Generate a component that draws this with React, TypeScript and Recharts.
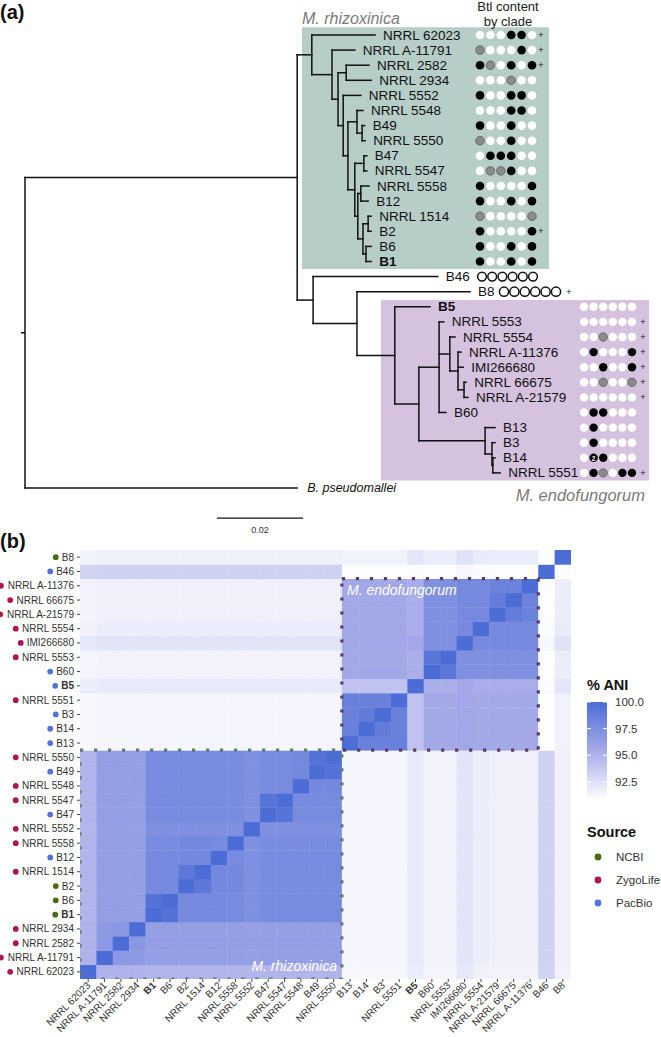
import React from 'react';
import {
    ComposedChart,
    ScatterChart,
    Scatter,
    XAxis,
    YAxis,
    ReferenceLine,
    ReferenceArea,
} from 'recharts';

const FONT = '"Liberation Sans", Arial, Helvetica, sans-serif';

// ---------------- (a) phylogeny ----------------

// leaves from top to bottom
const leafOrder = [
    'NRRL 62023', 'NRRL A-11791', 'NRRL 2582', 'NRRL 2934', 'NRRL 5552', 'NRRL 5548',
    'B49', 'NRRL 5550', 'B47', 'NRRL 5547', 'NRRL 5558', 'B12', 'NRRL 1514', 'B2', 'B6', 'B1',
    'B46', 'B8',
    'B5', 'NRRL 5553', 'NRRL 5554', 'NRRL A-11376', 'IMI266680', 'NRRL 66675', 'NRRL A-21579',
    'B60', 'B13', 'B3', 'B14', 'NRRL 5551',
    'B. pseudomallei',
];

// [node, parent, distance from root]
const treeEdges: [string, string, number][] = [
    ['ingroup', 'root', 0.0633],
    ['B. pseudomallei', 'root', 0.0633],
    ['R0', 'ingroup', 0.0667],
    ['NRRL 62023', 'R0', 0.0814],
    ['R1', 'R0', 0.0714],
    ['NRRL A-11791', 'R1', 0.0767],
    ['R2', 'R1', 0.0728],
    ['P', 'R2', 0.0747],
    ['NRRL 2582', 'P', 0.08],
    ['NRRL 2934', 'P', 0.0805],
    ['R3', 'R2', 0.074],
    ['NRRL 5552', 'R3', 0.0781],
    ['R4', 'R3', 0.0751],
    ['G1', 'R4', 0.0772],
    ['NRRL 5548', 'G1', 0.0786],
    ['G2', 'G1', 0.0784],
    ['B49', 'G2', 0.079],
    ['NRRL 5550', 'G2', 0.0791],
    ['R5', 'R4', 0.0767],
    ['G3', 'R5', 0.0788],
    ['B47', 'G3', 0.0795],
    ['NRRL 5547', 'G3', 0.0795],
    ['R6', 'R5', 0.0774],
    ['G4', 'R6', 0.0781],
    ['NRRL 5558', 'G4', 0.08],
    ['B12', 'G4', 0.0798],
    ['R7', 'R6', 0.0786],
    ['G5', 'R7', 0.0798],
    ['NRRL 1514', 'G5', 0.0805],
    ['B2', 'G5', 0.0805],
    ['G6', 'R7', 0.0793],
    ['B6', 'G6', 0.0805],
    ['B1', 'G6', 0.0805],
    ['N1', 'ingroup', 0.067],
    ['B46', 'N1', 0.096],
    ['N2', 'N1', 0.0772],
    ['B8', 'N2', 0.1035],
    ['E0', 'N2', 0.086],
    ['B5', 'E0', 0.0942],
    ['E1', 'E0', 0.0916],
    ['EA', 'E1', 0.0963],
    ['NRRL 5553', 'EA', 0.0974],
    ['EB', 'EA', 0.0988],
    ['NRRL 5554', 'EB', 0.1],
    ['EC', 'EB', 0.1007],
    ['NRRL A-11376', 'EC', 0.1014],
    ['IMI266680', 'EC', 0.1019],
    ['ED', 'EC', 0.1021],
    ['NRRL 66675', 'ED', 0.1026],
    ['NRRL A-21579', 'ED', 0.103],
    ['B60', 'EA', 0.0979],
    ['EB2', 'E1', 0.107],
    ['B13', 'EB2', 0.1093],
    ['EB3', 'EB2', 0.1086],
    ['B3', 'EB3', 0.1093],
    ['EB4', 'EB3', 0.1088],
    ['B14', 'EB4', 0.1093],
    ['NRRL 5551', 'EB4', 0.1105],
];

// Btl content per leaf (same order as leafOrder): w absent, g partial, k present, o none, 2 two copies
const btlPattern = [
    'wwwkkw', 'gwwwkw', 'kgwkwk', 'wwwgww', 'kwwkkw', 'wwwkkw', 'kwwkww', 'gwwkww',
    'wkkkww', 'wggkww', 'kwwwwk', 'kwwkwk', 'gwwwwg', 'kwwwwk', 'kwwkwk', 'kwwkwk',
    'oooooo', 'oooooo',
    'wwwwww', 'wwwwww', 'wwgwww', 'wkwwwk', 'wwkwwk', 'wwgwwg', 'wwwwww',
    'wkkwww', 'wkwwww', 'wkwwww', 'w2kwww', 'wkgwkk',
    '',
];
const btlPlus = [
    1, 1, 1, 0, 0, 0, 0, 0, 0, 0, 0, 0, 0, 1, 0, 0,
    0, 1,
    0, 1, 1, 1, 1, 1, 1, 0, 0, 0, 0, 1,
    0,
];

// ---------------- (b) ANI heatmap ----------------

const aniStrains = [
    'NRRL 62023', 'NRRL A-11791', 'NRRL 2582', 'NRRL 2934', 'B1', 'B6', 'B2', 'NRRL 1514',
    'B12', 'NRRL 5558', 'NRRL 5552', 'B47', 'NRRL 5547', 'NRRL 5548', 'B49', 'NRRL 5550',
    'B13', 'B14', 'B3', 'NRRL 5551', 'B5', 'B60', 'NRRL 5553', 'IMI266680', 'NRRL 5554',
    'NRRL A-21579', 'NRRL 66675', 'NRRL A-11376', 'B46', 'B8',
];

const aniSource = [
    'ZygoLife', 'ZygoLife', 'ZygoLife', 'ZygoLife', 'NCBI', 'NCBI', 'NCBI', 'ZygoLife',
    'PacBio', 'ZygoLife', 'ZygoLife', 'PacBio', 'ZygoLife', 'ZygoLife', 'PacBio', 'ZygoLife',
    'PacBio', 'PacBio', 'PacBio', 'ZygoLife', 'PacBio', 'PacBio', 'ZygoLife', 'ZygoLife', 'ZygoLife',
    'ZygoLife', 'ZygoLife', 'ZygoLife', 'PacBio', 'NCBI',
];

const sourceNames = ['NCBI', 'ZygoLife', 'PacBio'];
const sourceColors = ['#4b6b12', '#ad1650', '#5472dc'];

const aniTicks = [92.5, 95.0, 97.5, 100.0];

// clade blocks on the heatmap: first strain index, number of strains
const aniClades = [
    { name: 'M. rhizoxinica', first: 0, count: 16, color: '#5e7d6d' },
    { name: 'M. endofungorum', first: 16, count: 12, color: '#5b3a69' },
];

// % ANI, lower triangle (row i holds columns 0..i)
const aniLower: number[][] = [
    [100],
    [95.0, 100],
    [95.0, 96.8, 100],
    [95.0, 96.7, 96.9, 100],
    [94.9, 96.4, 96.4, 96.3, 100],
    [94.9, 96.4, 96.4, 96.3, 99.6, 100],
    [94.9, 96.4, 96.4, 96.3, 97.9, 97.9, 100],
    [94.9, 96.4, 96.4, 96.3, 97.9, 97.9, 99.2, 100],
    [94.9, 96.4, 96.4, 96.3, 97.9, 97.9, 98.0, 98.0, 100],
    [94.9, 96.4, 96.4, 96.3, 97.8, 97.8, 98.0, 98.0, 97.8, 100],
    [94.8, 96.3, 96.3, 96.2, 97.4, 97.4, 97.4, 97.4, 97.4, 97.4, 100],
    [94.9, 96.4, 96.4, 96.3, 97.8, 97.8, 97.8, 97.8, 97.8, 97.7, 97.4, 100],
    [94.9, 96.4, 96.4, 96.3, 97.8, 97.8, 97.8, 97.8, 97.8, 97.7, 97.4, 99.5, 100],
    [94.9, 96.4, 96.4, 96.3, 97.8, 97.8, 97.8, 97.8, 97.8, 97.7, 97.4, 97.8, 97.8, 100],
    [94.9, 96.4, 96.4, 96.3, 97.8, 97.8, 97.8, 97.8, 97.8, 97.7, 97.4, 97.8, 97.8, 98.0, 100],
    [94.9, 96.4, 96.4, 96.3, 97.8, 97.8, 97.8, 97.8, 97.8, 97.7, 97.4, 97.8, 97.8, 98.0, 99.6, 100],
    [91.2, 91.3, 91.3, 91.3, 91.3, 91.3, 91.3, 91.3, 91.3, 91.3, 91.3, 91.3, 91.3, 91.3, 91.3, 91.3,
        100],
    [91.2, 91.3, 91.3, 91.3, 91.3, 91.3, 91.3, 91.3, 91.3, 91.3, 91.3, 91.3, 91.3, 91.3, 91.3, 91.3,
        98.5, 100],
    [91.2, 91.3, 91.3, 91.3, 91.3, 91.3, 91.3, 91.3, 91.3, 91.3, 91.3, 91.3, 91.3, 91.3, 91.3, 91.3,
        98.5, 98.9, 100],
    [91.2, 91.3, 91.3, 91.3, 91.3, 91.3, 91.3, 91.3, 91.3, 91.3, 91.3, 91.3, 91.3, 91.3, 91.3, 91.3,
        98.6, 98.5, 98.5, 100],
    [91.8, 92.0, 92.0, 92.0, 92.0, 92.0, 92.0, 92.0, 92.0, 92.0, 92.0, 92.0, 92.0, 92.0, 92.0, 92.0,
        94.1, 94.1, 94.1, 94.1, 100],
    [91.4, 91.5, 91.5, 91.5, 91.5, 91.5, 91.5, 91.5, 91.5, 91.5, 91.5, 91.5, 91.5, 91.5, 91.5, 91.5,
        95.6, 95.6, 95.6, 95.6, 95.2, 100],
    [91.4, 91.5, 91.5, 91.5, 91.5, 91.5, 91.5, 91.5, 91.5, 91.5, 91.5, 91.5, 91.5, 91.5, 91.5, 91.5,
        95.6, 95.6, 95.6, 95.6, 95.2, 99.3, 100],
    [92.1, 92.3, 92.3, 92.3, 92.3, 92.3, 92.3, 92.3, 92.3, 92.3, 92.3, 92.3, 92.3, 92.3, 92.3, 92.3,
        95.7, 95.7, 95.7, 95.7, 95.7, 97.4, 97.4, 100],
    [91.6, 91.8, 91.8, 91.8, 91.8, 91.8, 91.8, 91.8, 91.8, 91.8, 91.8, 91.8, 91.8, 91.8, 91.8, 91.8,
        95.6, 95.6, 95.6, 95.6, 95.3, 97.4, 97.4, 97.9, 100],
    [91.5, 91.6, 91.6, 91.6, 91.6, 91.6, 91.6, 91.6, 91.6, 91.6, 91.6, 91.6, 91.6, 91.6, 91.6, 91.6,
        95.6, 95.6, 95.6, 95.6, 95.3, 97.4, 97.4, 97.9, 97.9, 100],
    [91.5, 91.6, 91.6, 91.6, 91.6, 91.6, 91.6, 91.6, 91.6, 91.6, 91.6, 91.6, 91.6, 91.6, 91.6, 91.6,
        95.6, 95.6, 95.6, 95.6, 95.3, 97.4, 97.4, 97.9, 97.9, 98.8, 100],
    [91.5, 91.6, 91.6, 91.6, 91.6, 91.6, 91.6, 91.6, 91.6, 91.6, 91.6, 91.6, 91.6, 91.6, 91.6, 91.6,
        95.6, 95.6, 95.6, 95.6, 95.3, 97.4, 97.4, 97.9, 97.9, 98.4, 98.4, 100],
    [93.2, 93.3, 93.3, 93.3, 93.3, 93.3, 93.3, 93.3, 93.3, 93.3, 93.3, 93.3, 93.3, 93.3, 93.3, 93.3,
        90.9, 90.9, 90.9, 90.9, 91.0, 90.9, 90.9, 91.2, 91.0, 90.9, 90.9, 90.9, 100],
    [91.5, 91.6, 91.6, 91.6, 91.6, 91.6, 91.6, 91.6, 91.6, 91.6, 91.6, 91.6, 91.6, 91.6, 91.6, 91.6,
        91.5, 91.5, 91.5, 91.5, 92.2, 91.8, 91.8, 92.4, 91.9, 91.8, 91.8, 91.8, 90.9, 100],
];

// ---------------- layout ----------------

const W = 661;
const TREE_H = 535;
const PX_PER_UNIT = 4300; // 0.02 substitutions = 86 px
const ROOT_PX = 25;
const ROW0_PX = 35;
const ROW_PX = 15.1;
const toDepth = (px: number) => (px - ROOT_PX) / PX_PER_UNIT;

const TEAL = '#b6cdc8';
const LILAC = '#d5c2de';

// where each clade's Btl circles start (px), spacing, radius and '+' position
const BTL_LAYOUT: Record<string, { x0: number; dx: number; r: number; plus: number }> = {
    rhizo: { x0: 480, dx: 10.4, r: 4.3, plus: 541 },
    b46: { x0: 482, dx: 10.2, r: 4.4, plus: 545 },
    b8: { x0: 504, dx: 10.4, r: 4.6, plus: 569 },
    endo: { x0: 584, dx: 9.6, r: 4.2, plus: 643 },
};

const HEAT_TOP = 535;
const HEAT_H = 502;
const HEAT_LEFT_AXIS = 80;
const HEAT_RIGHT = 90;
const HEAT_MARGIN_TOP = 15;
const HEAT_X_AXIS_H = 58;
const CELL_W = (W - HEAT_LEFT_AXIS - HEAT_RIGHT) / aniStrains.length;
const CELL_H = (HEAT_H - HEAT_MARGIN_TOP - HEAT_X_AXIS_H) / aniStrains.length;

const ANI_MIN = 90.8;
const ANI_MAX = 100;
const LOW = [255, 255, 255];
const MID = [167, 171, 232];
const HIGH = [77, 109, 214];

function aniColor(v: number) {
    const t = Math.max(0, Math.min(1, (v - ANI_MIN) / (ANI_MAX - ANI_MIN)));
    const [a, b, u] = t < 0.5 ? [LOW, MID, t / 0.5] : [MID, HIGH, (t - 0.5) / 0.5];
    const c = a.map((x, k) => Math.round(x + (b[k] - x) * u));
    return `rgb(${c[0]},${c[1]},${c[2]})`;
}

// ---------------- tree geometry ----------------

const depthOf: Record<string, number> = { root: 0 };
const kids: Record<string, string[]> = {};
treeEdges.forEach(([n, p, d]) => {
    depthOf[n] = d;
    (kids[p] = kids[p] || []).push(n);
});
const yOf: Record<string, number> = {};
function placeY(n: string): number {
    if (!kids[n]) {
        yOf[n] = leafOrder.indexOf(n);
        return yOf[n];
    }
    const ys = kids[n].map(placeY);
    yOf[n] = (Math.min(...ys) + Math.max(...ys)) / 2;
    return yOf[n];
}
placeY('root');

const hSegs = treeEdges.map(([n, p]) => ({ x1: depthOf[p], x2: depthOf[n], y: yOf[n] }));
const vSegs = Object.keys(kids).map((p) => {
    const ys = kids[p].map((k) => yOf[k]);
    return { x: depthOf[p], y1: Math.min(...ys), y2: Math.max(...ys) };
});

const cladeOf = (i: number) => (i < 16 ? 'rhizo' : i === 16 ? 'b46' : i === 17 ? 'b8' : 'endo');
const leafData = leafOrder.map((name, i) => ({
    x: depthOf[name],
    y: i,
    name,
    btl: btlPattern[i],
    plus: btlPlus[i] === 1,
    clade: cladeOf(i),
}));

function BtlDot({ x, y, kind, r }: { x: number; y: number; kind: string; r: number }) {
    if (kind === 'o') {
        return <circle cx={x} cy={y} r={r} fill="none" stroke="#111" strokeWidth={1.5} />;
    }
    if (kind === '2') {
        return (
            <g>
                <circle cx={x} cy={y} r={r} fill="#000" />
                <text x={x} y={y + 0.3} fontSize={6.5} fontWeight="bold" fill="#fff"
                    textAnchor="middle" dominantBaseline="central" fontFamily={FONT}>2</text>
            </g>
        );
    }
    const fill = kind === 'k' ? '#000' : kind === 'g' ? '#8b8b8b' : '#fff';
    return <circle cx={x} cy={y} r={r} fill={fill} stroke={kind === 'g' ? '#444' : 'none'} strokeWidth={0.6} />;
}

function LeafMark(props: any) {
    const { cx, cy, payload } = props;
    const { name, btl, plus, clade } = payload;
    const lay = BTL_LAYOUT[clade];
    const isOut = name === 'B. pseudomallei';
    return (
        <g>
            <text x={cx + (isOut ? 10 : 8)} y={cy} dominantBaseline="central" fontFamily={FONT}
                fontSize={isOut ? 12.5 : 13.5} fill="#111"
                fontStyle={isOut ? 'italic' : 'normal'}
                fontWeight={name === 'B1' || name === 'B5' ? 'bold' : 'normal'}>
                {name}
            </text>
            {lay && btl.split('').map((c: string, k: number) => (
                <BtlDot key={k} x={lay.x0 + k * lay.dx} y={cy} kind={c} r={lay.r} />
            ))}
            {lay && plus && (
                <text x={lay.plus} y={cy} fontSize={9} textAnchor="middle" dominantBaseline="central"
                    fontFamily={FONT} fill="#111">+</text>
            )}
        </g>
    );
}

function TreePanel() {
    const stroke = '#111';
    return (
        <ComposedChart width={W} height={TREE_H} margin={{ top: 0, right: 0, bottom: 0, left: 0 }}>
            <XAxis type="number" dataKey="x" hide allowDataOverflow
                domain={[toDepth(0), toDepth(W)]} />
            <YAxis type="number" dataKey="y" hide allowDataOverflow reversed
                domain={[-ROW0_PX / ROW_PX, (TREE_H - ROW0_PX) / ROW_PX]} />
            <ReferenceArea x1={toDepth(302)} x2={toDepth(549)} y1={-0.52} y2={15.5}
                fill={TEAL} fillOpacity={1} stroke="none" />
            <ReferenceArea x1={toDepth(381)} x2={toDepth(649)} y1={17.55} y2={29.5}
                fill={LILAC} fillOpacity={1} stroke="none" />
            {vSegs.map((s, k) => (
                <ReferenceLine key={`v${k}`} segment={[{ x: s.x, y: s.y1 }, { x: s.x, y: s.y2 }]}
                    stroke={stroke} strokeWidth={1.5} strokeLinecap="square" />
            ))}
            {hSegs.map((s, k) => (
                <ReferenceLine key={`h${k}`} segment={[{ x: s.x1, y: s.y }, { x: s.x2, y: s.y }]}
                    stroke={stroke} strokeWidth={1.5} strokeLinecap="square" />
            ))}
            <ReferenceLine segment={[{ x: toDepth(21), y: yOf.root }, { x: 0, y: yOf.root }]}
                stroke={stroke} strokeWidth={1.5} />
            <ReferenceLine segment={[{ x: toDepth(217), y: 32 }, { x: toDepth(217) + 0.02, y: 32 }]}
                stroke={stroke} strokeWidth={1.3} />
            <Scatter data={leafData} dataKey="y" shape={LeafMark} isAnimationActive={false} />
        </ComposedChart>
    );
}

// ---------------- heatmap ----------------

const cells: { x: number; y: number; v: number }[] = [];
aniStrains.forEach((_, i) => {
    aniStrains.forEach((__, j) => {
        const v = i >= j ? aniLower[i][j] : aniLower[j][i];
        cells.push({ x: j, y: i, v });
    });
});

const cladeBlocks = aniClades.map((c) => {
    const mid = c.first + (c.count - 1) / 2;
    return { x: mid, y: mid, count: c.count, color: c.color };
});

let measureCtx: CanvasRenderingContext2D | null = null;
function textWidth(s: string, font: string) {
    if (!measureCtx) measureCtx = document.createElement('canvas').getContext('2d');
    if (!measureCtx) return s.length * 6;
    measureCtx.font = font;
    return measureCtx.measureText(s).width;
}

const isBold = (n: string) => n === 'B1' || n === 'B5';

function Cell(props: any) {
    const { cx, cy, payload } = props;
    return (
        <rect x={cx - CELL_W / 2} y={cy - CELL_H / 2} width={CELL_W + 0.4} height={CELL_H + 0.4}
            fill={aniColor(payload.v)} />
    );
}

function CladeBlock(props: any) {
    const { cx, cy, payload } = props;
    const w = payload.count * CELL_W;
    const h = payload.count * CELL_H;
    return (
        <rect x={cx - w / 2} y={cy - h / 2} width={w} height={h} fill="none"
            stroke={payload.color} strokeWidth={3.2} strokeDasharray="3.2 10.8" />
    );
}

function YTick(props: any) {
    const { x, y, payload } = props;
    const name = aniStrains[payload.value];
    const bold = isBold(name);
    const w = textWidth(name, `${bold ? 'bold ' : ''}10px "Liberation Sans"`);
    const color = sourceColors[sourceNames.indexOf(aniSource[payload.value])];
    return (
        <g>
            <circle cx={x - w - 6} cy={y} r={2.9} fill={color} />
            <text x={x} y={y} textAnchor="end" dominantBaseline="central" fontSize={10}
                fontFamily={FONT} fill="#333" fontWeight={bold ? 'bold' : 'normal'}>{name}</text>
        </g>
    );
}

function XTick(props: any) {
    const { x, y, payload } = props;
    const name = aniStrains[payload.value];
    return (
        <text x={x - 2} y={y - 3} transform={`rotate(-45, ${x - 2}, ${y - 3})`} textAnchor="end"
            dy="0.7em" fontSize={10} fontFamily={FONT} fill="#333"
            fontWeight={isBold(name) ? 'bold' : 'normal'}>{name}</text>
    );
}

function HeatmapPanel() {
    const idx = aniStrains.map((_, i) => i);
    const dom: [number, number] = [-0.5, aniStrains.length - 0.5];
    return (
        <ScatterChart width={W} height={HEAT_H}
            margin={{ top: HEAT_MARGIN_TOP, right: HEAT_RIGHT, bottom: 0, left: 0 }}>
            <XAxis type="number" dataKey="x" domain={dom} ticks={idx} interval={0} allowDataOverflow
                height={HEAT_X_AXIS_H} axisLine={false} tickSize={3} tickLine={{ stroke: '#444' }}
                tick={XTick} />
            <YAxis type="number" dataKey="y" domain={dom} ticks={idx} interval={0} allowDataOverflow
                width={HEAT_LEFT_AXIS} axisLine={false} tickSize={3} tickMargin={3}
                tickLine={{ stroke: '#444' }} tick={YTick} />
            <Scatter data={cells} shape={Cell} isAnimationActive={false} />
            <Scatter data={cladeBlocks} shape={CladeBlock} isAnimationActive={false} />
        </ScatterChart>
    );
}

// ---------------- overlay text and legends ----------------

function Overlay() {
    const barTop = 702;
    const barBottom = 800;
    const barX = 587;
    const yFor = (v: number) => barTop + ((ANI_MAX - v) / (ANI_MAX - ANI_MIN)) * (barBottom - barTop);
    const grey = '#7b7b7b';
    return (
        <svg width={W} height={1037} style={{ position: 'absolute', left: 0, top: 0, pointerEvents: 'none' }}
            fontFamily={FONT}>
            <defs>
                <linearGradient id="aniGrad" x1="0" y1="0" x2="0" y2="1">
                    <stop offset="0" stopColor={aniColor(100)} />
                    <stop offset="0.5" stopColor={aniColor(95.4)} />
                    <stop offset="1" stopColor={aniColor(90.8)} />
                </linearGradient>
            </defs>
            <text x={0} y={12} fontSize={20} fontWeight="bold" dominantBaseline="central" fill="#111">(a)</text>
            <text x={302} y={18} fontSize={16} fontStyle="italic" dominantBaseline="central" fill={grey}>M. rhizoxinica</text>
            <text x={508} y={6} fontSize={13} textAnchor="middle" dominantBaseline="central" fill="#222">Btl content</text>
            <text x={508} y={21} fontSize={13} textAnchor="middle" dominantBaseline="central" fill="#222">by clade</text>
            <text x={645} y={495} fontSize={16.5} fontStyle="italic" textAnchor="end" dominantBaseline="central" fill={grey}>M. endofungorum</text>
            <text x={260} y={530} fontSize={9} textAnchor="middle" dominantBaseline="central" fill="#333">0.02</text>
            <text x={0} y={541} fontSize={20} fontWeight="bold" dominantBaseline="central" fill="#111">(b)</text>

            <text x={347} y={590} fontSize={14} fontStyle="italic" dominantBaseline="central" fill="#fff">M. endofungorum</text>
            <text x={337} y={966} fontSize={14} fontStyle="italic" textAnchor="end" dominantBaseline="central" fill="#fff">M. rhizoxinica</text>

            <text x={barX} y={685} fontSize={14.5} fontWeight="bold" dominantBaseline="central" fill="#111">% ANI</text>
            <rect x={barX} y={barTop} width={20} height={barBottom - barTop} fill="url(#aniGrad)" />
            {aniTicks.map((v) => (
                <g key={v}>
                    <line x1={barX} x2={barX + 4} y1={yFor(v)} y2={yFor(v)} stroke="#fff" strokeWidth={1} />
                    <line x1={barX + 16} x2={barX + 20} y1={yFor(v)} y2={yFor(v)} stroke="#fff" strokeWidth={1} />
                    <text x={barX + 28} y={yFor(v)} fontSize={11.5} dominantBaseline="central" fill="#333">
                        {v.toFixed(1)}
                    </text>
                </g>
            ))}

            <text x={barX} y={832} fontSize={14.5} fontWeight="bold" dominantBaseline="central" fill="#111">Source</text>
            {sourceNames.map((s, k) => (
                <g key={s}>
                    <circle cx={598} cy={857 + k * 23} r={3.4} fill={sourceColors[k]} />
                    <text x={616} y={857 + k * 23} fontSize={11.5} dominantBaseline="central" fill="#333">{s}</text>
                </g>
            ))}
        </svg>
    );
}

export default function App() {
    return (
        <div style={{ position: 'absolute', left: 0, top: 0, width: W, height: 1037, background: '#fff' }}>
            <div style={{ position: 'absolute', left: 0, top: 0 }}>
                <TreePanel />
            </div>
            <div style={{ position: 'absolute', left: 0, top: HEAT_TOP }}>
                <HeatmapPanel />
            </div>
            <Overlay />
        </div>
    );
}
